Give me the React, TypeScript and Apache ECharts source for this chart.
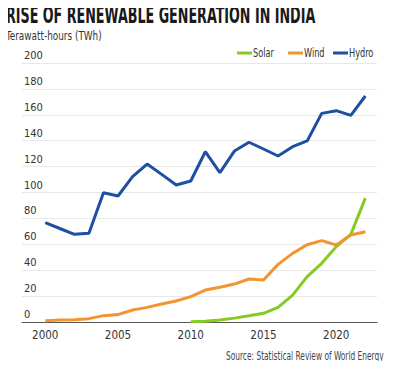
import React, { useEffect, useRef } from "react";
import * as echarts from "echarts";

const years = [2000,2001,2002,2003,2004,2005,2006,2007,2008,2009,2010,2011,2012,2013,2014,2015,2016,2017,2018,2019,2020,2021,2022];
const solarYears = [2010,2011,2012,2013,2014,2015,2016,2017,2018,2019,2020,2021,2022];
const solar = [0.1,0.6,1.5,3.0,4.8,6.7,11.3,20.8,35.0,45.3,58.2,67.7,95.7];
const wind = [1.0,1.5,1.7,2.6,4.9,5.7,9.3,11.3,13.9,16.2,19.6,24.7,26.8,29.3,33.2,32.4,44.5,53.0,59.7,62.8,59.5,67.2,69.7];
const hydro = [76.7,72.2,67.7,68.5,99.8,97.3,112.2,122.0,114.0,105.8,108.9,131.5,115.3,132.0,138.8,133.6,128.2,135.4,139.8,161.1,163.2,159.6,174.5];
const xLabels = [2000,2005,2010,2015,2020];
const seriesNames = ["Solar", "Wind", "Hydro"];
const seriesColors = ["#84cc22", "#f39433", "#1d4fa3"];

const FONT = "'Liberation Sans Narrow', 'DejaVu Sans Condensed', 'Roboto', sans-serif";
const legendX = [237, 288, 333];

export default function App() {
  const ref = useRef<HTMLDivElement>(null);
  useEffect(() => {
    if (!ref.current) return;
    const chart = echarts.init(ref.current, null, { renderer: "svg" });
    const legendItems: any[] = [];
    seriesNames.forEach((n, i) => {
      legendItems.push({ type: "rect", shape: { x: legendX[i], y: 51.5, width: 15, height: 3 }, style: { fill: seriesColors[i] } });
      legendItems.push({ type: "text", x: legendX[i] + 16, y: 46, scaleX: 0.7, style: { text: n, font: `13px ${FONT}`, fill: "#333" } });
    });
    chart.setOption({
      animation: false,
      backgroundColor: "#ffffff",
      textStyle: { fontFamily: FONT },
      graphic: [
        { type: "text", x: 6, y: 4, scaleX: 0.615, style: { text: "RISE OF RENEWABLE GENERATION IN INDIA", font: `bold 23px ${FONT}`, fill: "#1a1a1a" } },
        { type: "text", x: 6, y: 29, scaleX: 0.76, style: { text: "Terawatt-hours (TWh)", font: `13px ${FONT}`, fill: "#333" } },
        { type: "text", x: 226, y: 349, scaleX: 0.69, style: { text: "Source: Statistical Review of World Energy", font: `12px ${FONT}`, fill: "#444" } },
        ...legendItems,
      ],
      grid: { left: 22, right: 23, top: 63, bottom: 47 },
      xAxis: {
        type: "value", min: 1998.4, max: 2022.8,
        axisLine: { show: true, lineStyle: { color: "#555", width: 1 } },
        axisTick: { show: false },
        splitLine: { show: false },
        axisLabel: { customValues: xLabels, color: "#333", fontSize: 11.5, fontFamily: FONT, margin: 7, formatter: (v: number) => String(v) },
      },
      yAxis: {
        type: "value", min: 0, max: 200, interval: 20,
        axisLine: { show: false }, axisTick: { show: false },
        splitLine: { lineStyle: { color: "#e8e8e8", width: 1 } },
        axisLabel: { inside: true, verticalAlign: "bottom", align: "left", margin: 2, color: "#333", fontSize: 11, fontFamily: FONT, padding: [0, 0, 2, 0] },
      },
      series: [
        { name: "Solar", type: "line", data: solarYears.map((y, i) => [y, solar[i]]), showSymbol: false, lineStyle: { width: 3, color: seriesColors[0] }, itemStyle: { color: seriesColors[0] } },
        { name: "Wind", type: "line", data: years.map((y, i) => [y, wind[i]]), showSymbol: false, lineStyle: { width: 3, color: seriesColors[1] }, itemStyle: { color: seriesColors[1] } },
        { name: "Hydro", type: "line", data: years.map((y, i) => [y, hydro[i]]), showSymbol: false, lineStyle: { width: 3, color: seriesColors[2] }, itemStyle: { color: seriesColors[2] } },
      ],
    });
    return () => chart.dispose();
  }, []);
  return <div ref={ref} style={{ width: 400, height: 369, margin: -8 }} />;
}
